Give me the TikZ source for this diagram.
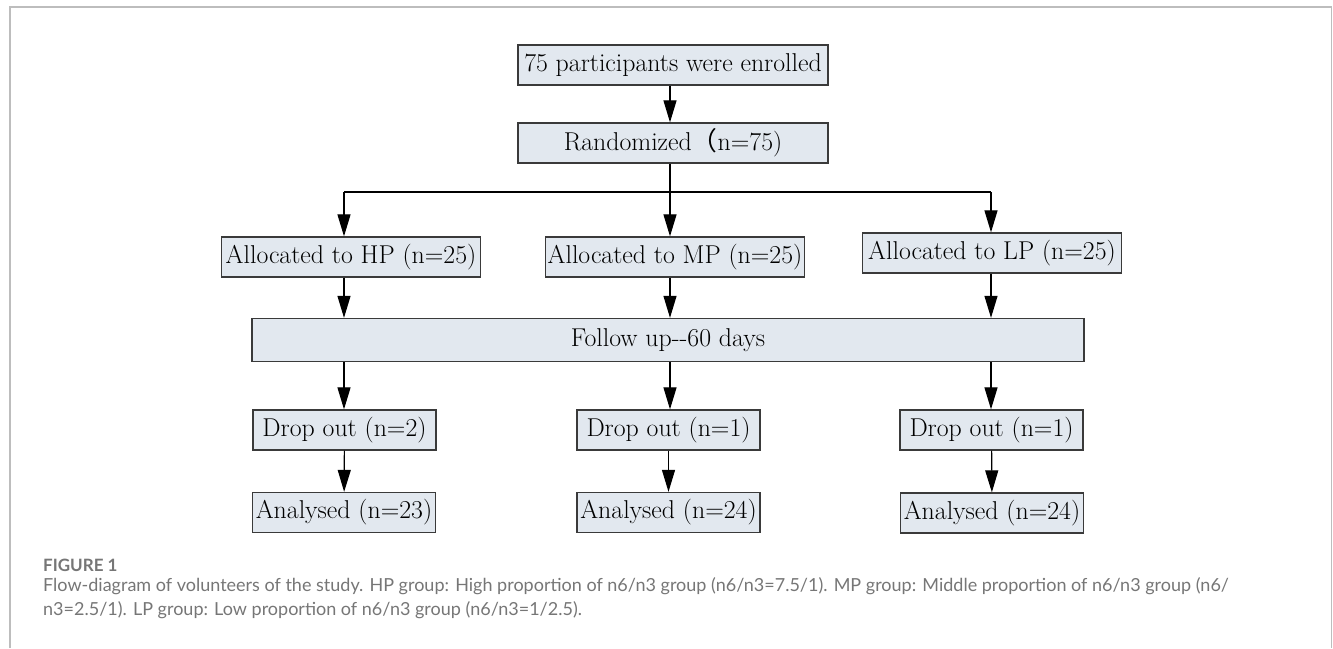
\documentclass[tikz,border=0pt]{standalone}
\usepackage{fontspec}
\newfontfamily\capfont{Lato}
\newfontfamily\cjk{Noto Sans CJK SC}
\usetikzlibrary{arrows.meta, positioning}
\definecolor{BoxFill}{HTML}{E2E8EF}
\definecolor{BoxLine}{HTML}{3A3A3A}
\definecolor{FrameGray}{HTML}{BDBDBD}
\definecolor{CapGray}{HTML}{767676}

\begin{document}
\begin{tikzpicture}[
      x=1pt, y=-1pt,
      box/.style={draw=BoxLine, fill=BoxFill, line width=1.3pt, inner sep=0pt, minimum height=40pt, font=\fontsize{25.8}{30}\selectfont},
      topbox/.style={box, minimum width=310pt},
      allocbox/.style={box, minimum width=259pt},
      smallbox/.style={box, minimum width=183pt},
      arrow/.style={-{Triangle[length=22pt, width=13pt]}, line width=1.2pt},
      capt/.style={inner sep=0pt, text=CapGray, align=left}
  ]
      \useasboundingbox (0,0) rectangle (1333,648);
      % Frame
      \draw[FrameGray, line width=1.5pt] (10,648) -- (10,7) -- (1331.5,7) -- (1331.5,648);

      % Enrolment
      \node[topbox] (enrol) at (673,65) {75 participants were enrolled};
      \node[topbox] (rand) at (673,143) {Randomized{\cjk （}n=75)};

      % Allocation
      \node[allocbox] (hp) at (351,257) {Allocated to HP (n=25)};
      \node[allocbox] (mp) at (675,257) {Allocated to MP (n=25)};
      \node[allocbox] (lp) at (992,253) {Allocated to LP (n=25)};

      % Follow up
      \node[box, minimum width=832pt, minimum height=43pt] (fu) at (668,340) {Follow up-{}-60 days};

      % Drop out & analysis
      \node[smallbox] (dhp) at (344.5,430) {Drop out (n=2)};
      \node[smallbox] (dmp) at (668.5,430) {Drop out (n=1)};
      \node[smallbox] (dlp) at (991.5,430) {Drop out (n=1)};
      \node[smallbox] (ahp) at (344,512.5) {Analysed (n=23)};
      \node[smallbox] (amp) at (668.5,512.5) {Analysed (n=24)};
      \node[smallbox] (alp) at (992,513) {Analysed (n=24)};

      % Column coordinates on the split line
      \coordinate (cL) at (344,192);
      \coordinate (cM) at (670,192);
      \coordinate (cR) at (991,192);

      % Connectors
      \draw[arrow] (enrol.south -| cM) -- (rand.north -| cM);
      \draw[arrow] (rand.south -| cM) -- (mp.north -| cM);
      \draw[line width=1.2pt] (cL) -- (cR);
      \draw[arrow] (cL) -- (hp.north -| cL);
      \draw[arrow] (cR) -- (lp.north -| cR);
      \foreach \grp/\col in {hp/cL, mp/cM, lp/cR}
        \draw[arrow] (\grp.south -| \col) -- (fu.north -| \col);
      \foreach \col/\drop/\ana in {cL/dhp/ahp, cM/dmp/amp, cR/dlp/alp} {
        \draw[arrow] (fu.south -| \col) -- (\drop.north -| \col);
        \draw[arrow] (\drop) -- (\ana);
      }

      % Caption
      \node[capt, anchor=west, font=\capfont\bfseries\fontsize{17}{19}\selectfont] (fig) at (43,565) {FIGURE 1};
      \node[capt, anchor=north west, font=\capfont\fontsize{18}{24}\selectfont] (cap) at (43,577) {Flow-diagram of volunteers of the study. HP group: High proportion of n6/n3 group (n6/n3=7.5/1). MP group: Middle proportion of n6/n3 group (n6/\\n3=2.5/1). LP group: Low proportion of n6/n3 group (n6/n3=1/2.5).};
  \end{tikzpicture}
\end{document}
